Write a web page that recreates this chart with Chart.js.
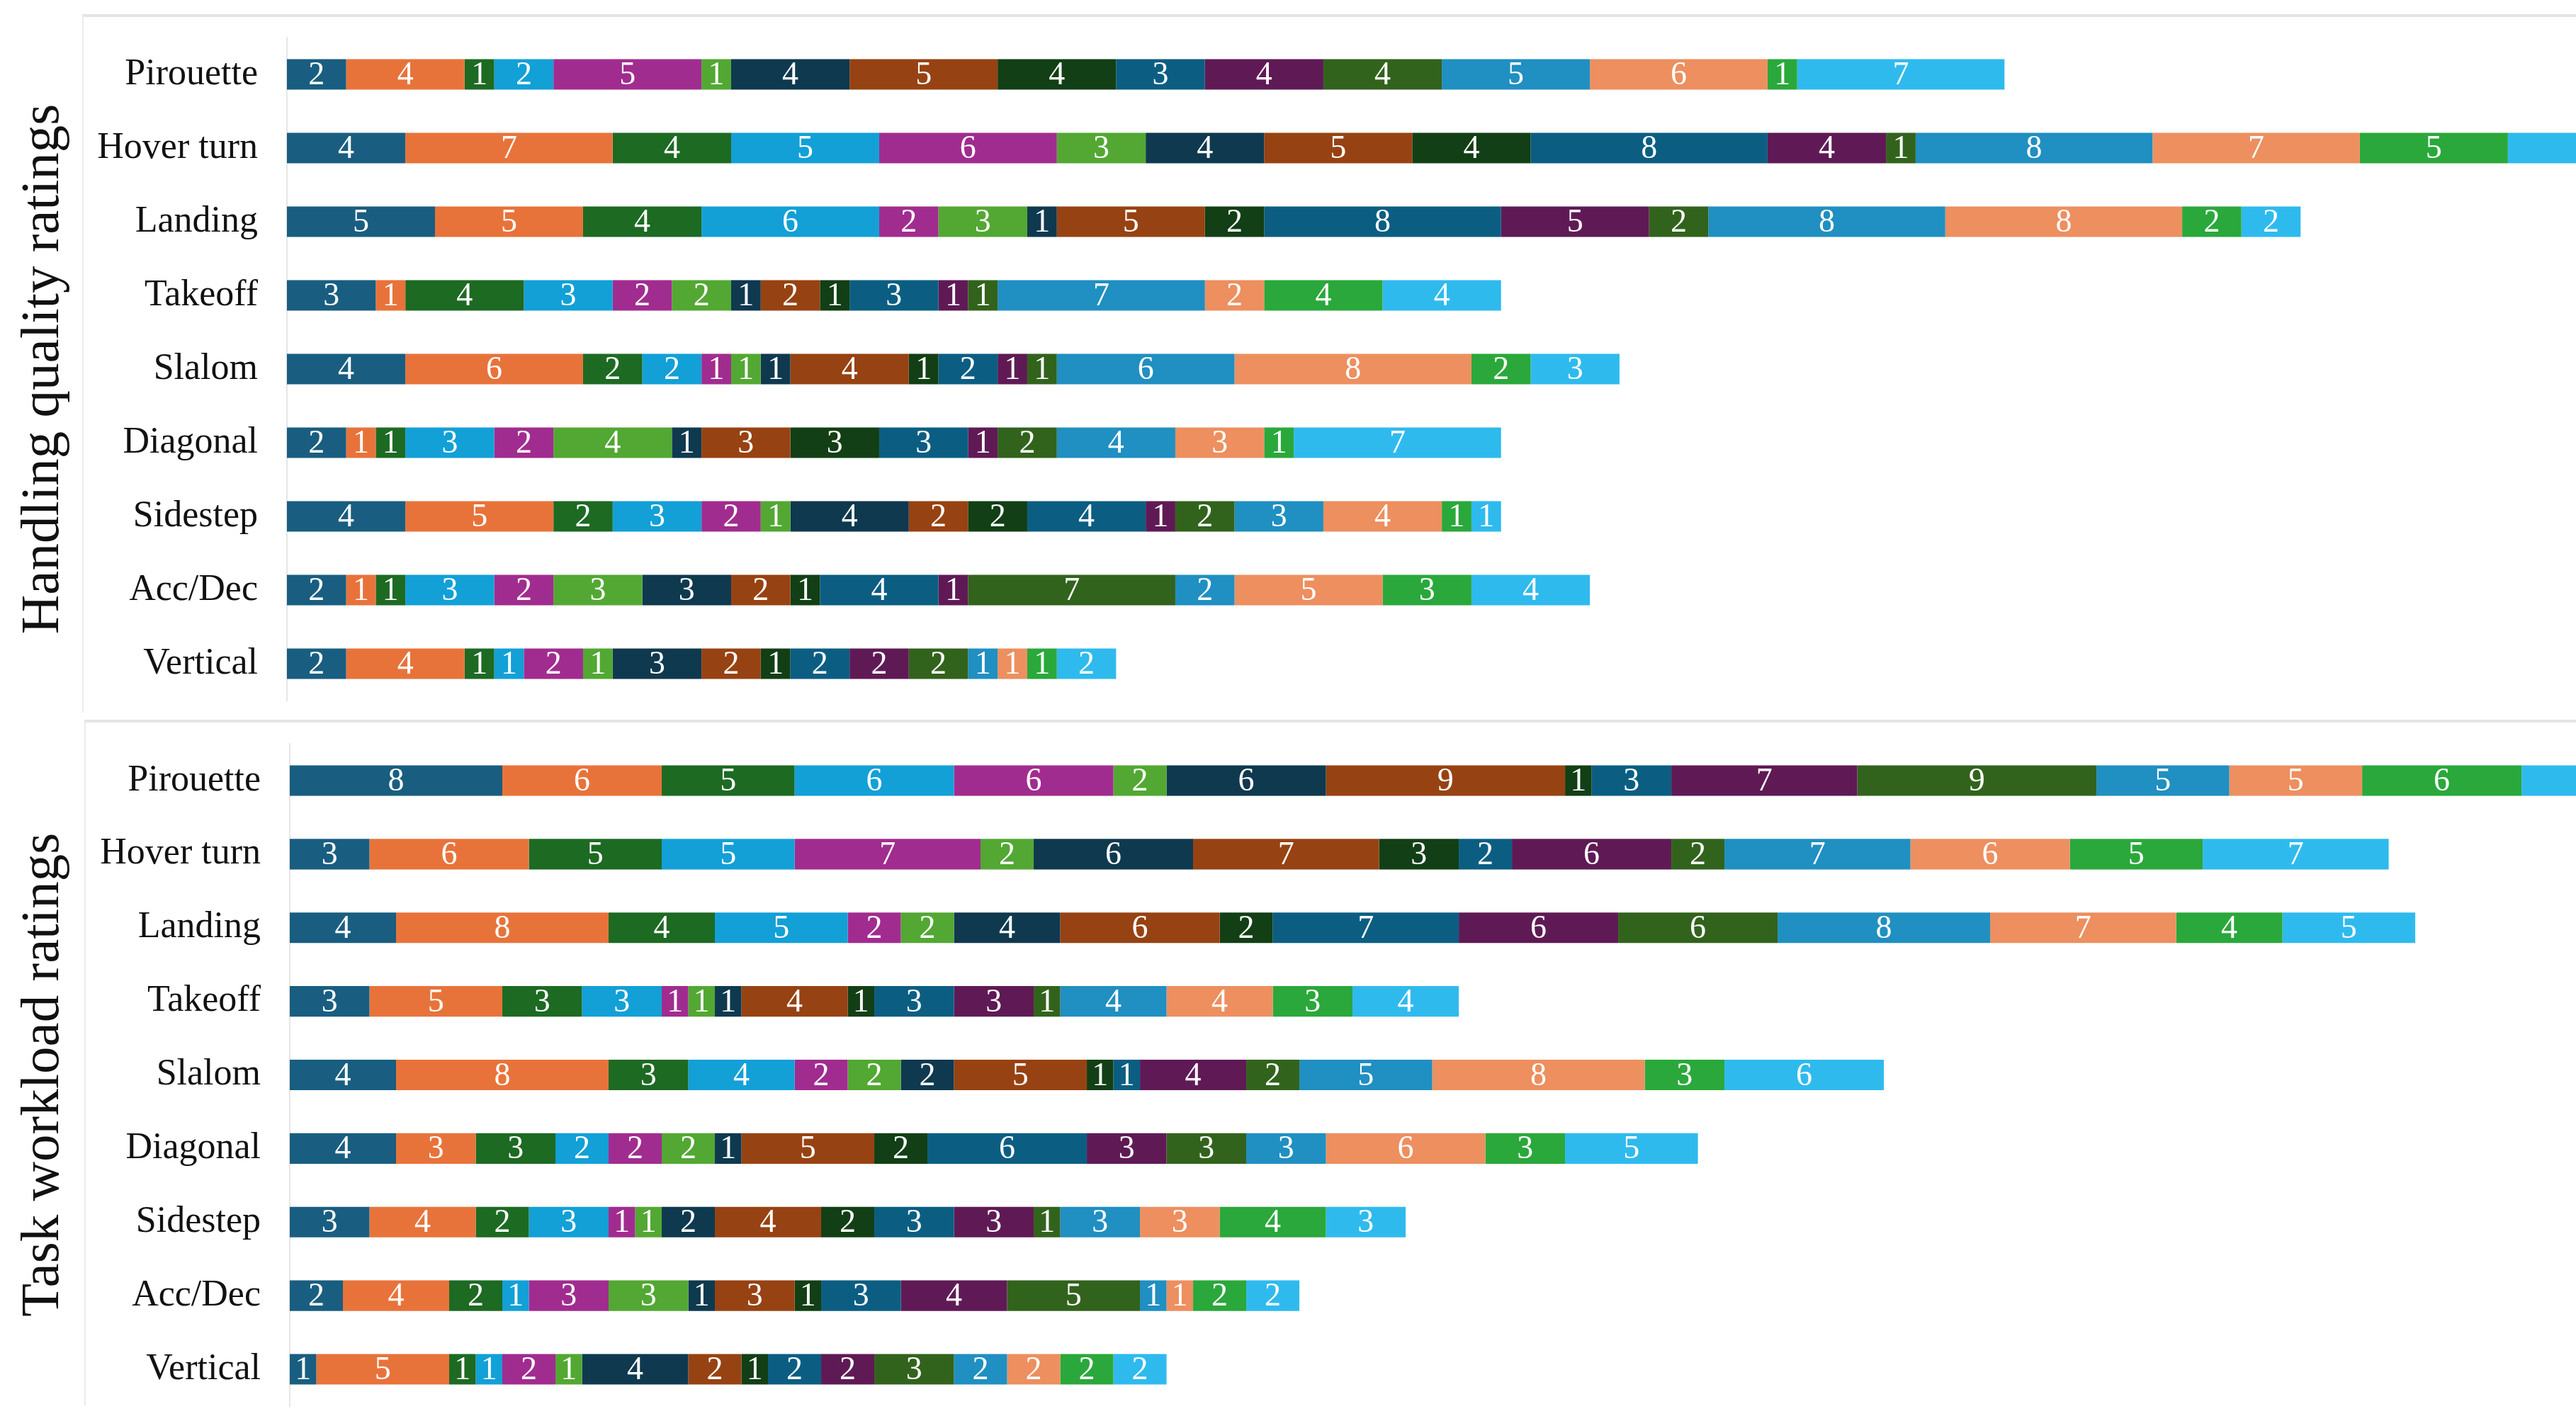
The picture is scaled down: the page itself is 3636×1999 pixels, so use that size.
<!DOCTYPE html>
<html>
<head>
<meta charset="utf-8">
<script src="https://cdn.jsdelivr.net/npm/chart.js"></script>
<style>
  body { margin: 0; background: #fff; width: 3636px; height: 1999px; position: relative; overflow: hidden; }
  .frame { position: absolute; right: -10px; border-top: 4px solid #e4e4e4; border-left: 2px solid #ececec; }
  #frameTop { left: 116px; top: 20px; height: 982px; }
  #frameBottom { left: 119px; top: 1016px; height: 964px; }
  canvas { position: absolute; left: 0; }
  #handlingChart { top: 0; }
  #workloadChart { top: 1000px; }
</style>
</head>
<body>
<div class="frame" id="frameTop"></div>
<div class="frame" id="frameBottom"></div>
<canvas id="handlingChart" width="3636" height="1000"></canvas>
<canvas id="workloadChart" width="3636" height="999"></canvas>
<script>
const tasks = ['Pirouette', 'Hover turn', 'Landing', 'Takeoff', 'Slalom', 'Diagonal', 'Sidestep', 'Acc/Dec', 'Vertical'];

// one colour per stacked segment position
const segmentColors = [
  '#195E80', '#E8733A', '#1D6A23', '#12A0D7', '#A12C8F', '#52A832', '#0F394F', '#974212',
  '#123F15', '#0B5E82', '#5F1A55', '#32631C', '#208FC1', '#ED8F5F', '#2AA83B', '#2FBAEE'
];

// Handling quality ratings, one array per task (16 segments each)
const hqPirouette = [2, 4, 1, 2, 5, 1, 4, 5, 4, 3, 4, 4, 5, 6, 1, 7];
const hqHoverTurn = [4, 7, 4, 5, 6, 3, 4, 5, 4, 8, 4, 1, 8, 7, 5, 6];
const hqLanding   = [5, 5, 4, 6, 2, 3, 1, 5, 2, 8, 5, 2, 8, 8, 2, 2];
const hqTakeoff   = [3, 1, 4, 3, 2, 2, 1, 2, 1, 3, 1, 1, 7, 2, 4, 4];
const hqSlalom    = [4, 6, 2, 2, 1, 1, 1, 4, 1, 2, 1, 1, 6, 8, 2, 3];
const hqDiagonal  = [2, 1, 1, 3, 2, 4, 1, 3, 3, 3, 1, 2, 4, 3, 1, 7];
const hqSidestep  = [4, 5, 2, 3, 2, 1, 4, 2, 2, 4, 1, 2, 3, 4, 1, 1];
const hqAccDec    = [2, 1, 1, 3, 2, 3, 3, 2, 1, 4, 1, 7, 2, 5, 3, 4];
const hqVertical  = [2, 4, 1, 1, 2, 1, 3, 2, 1, 2, 2, 2, 1, 1, 1, 2];

// Task workload ratings
const twPirouette = [8, 6, 5, 6, 6, 2, 6, 9, 1, 3, 7, 9, 5, 5, 6, 6];
const twHoverTurn = [3, 6, 5, 5, 7, 2, 6, 7, 3, 2, 6, 2, 7, 6, 5, 7];
const twLanding   = [4, 8, 4, 5, 2, 2, 4, 6, 2, 7, 6, 6, 8, 7, 4, 5];
const twTakeoff   = [3, 5, 3, 3, 1, 1, 1, 4, 1, 3, 3, 1, 4, 4, 3, 4];
const twSlalom    = [4, 8, 3, 4, 2, 2, 2, 5, 1, 1, 4, 2, 5, 8, 3, 6];
const twDiagonal  = [4, 3, 3, 2, 2, 2, 1, 5, 2, 6, 3, 3, 3, 6, 3, 5];
const twSidestep  = [3, 4, 2, 3, 1, 1, 2, 4, 2, 3, 3, 1, 3, 3, 4, 3];
const twAccDec    = [2, 4, 2, 1, 3, 3, 1, 3, 1, 3, 4, 5, 1, 1, 2, 2];
const twVertical  = [1, 5, 1, 1, 2, 1, 4, 2, 1, 2, 2, 3, 2, 2, 2, 2];

const handlingRows = [hqPirouette, hqHoverTurn, hqLanding, hqTakeoff, hqSlalom, hqDiagonal, hqSidestep, hqAccDec, hqVertical];
const workloadRows = [twPirouette, twHoverTurn, twLanding, twTakeoff, twSlalom, twDiagonal, twSidestep, twAccDec, twVertical];

// white value written in the middle of every segment
const segmentLabels = {
  id: 'segmentLabels',
  afterDatasetsDraw(chart) {
    const { ctx, chartArea } = chart;
    ctx.save();
    ctx.beginPath();
    ctx.rect(chartArea.left, chartArea.top, chartArea.width, chartArea.height);
    ctx.clip();
    ctx.font = '46px "Liberation Serif"';
    ctx.fillStyle = '#ffffff';
    ctx.textAlign = 'center';
    ctx.textBaseline = 'middle';
    chart.data.datasets.forEach((ds, i) => {
      chart.getDatasetMeta(i).data.forEach((bar, j) => {
        const v = ds.data[j];
        if (!v) return;
        const p = bar.getCenterPoint();
        ctx.fillText(String(v), p.x, p.y + 2);
      });
    });
    ctx.restore();
  }
};

function makeChart(id, rows, title, xMax, pad, axisWidth) {
  const datasets = segmentColors.map((color, k) => ({
    data: rows.map(r => r[k]),
    backgroundColor: color,
    borderWidth: 0,
    categoryPercentage: 1,
    barPercentage: 0.415
  }));

  return new Chart(document.getElementById(id).getContext('2d'), {
    type: 'bar',
    data: { labels: tasks, datasets: datasets },
    options: {
      indexAxis: 'y',
      responsive: false,
      animation: false,
      layout: { padding: pad },
      plugins: { legend: { display: false }, tooltip: { enabled: false } },
      scales: {
        x: { stacked: true, display: false, min: 0, max: xMax },
        y: {
          stacked: true,
          grid: { display: false, drawTicks: false },
          border: { display: true, color: '#e6e6e6', width: 2 },
          ticks: { padding: 41, color: '#111', font: { family: 'Liberation Serif', size: 52 } },
          title: {
            display: true,
            text: title,
            color: '#111',
            padding: 0,
            font: { family: 'Liberation Serif', size: 77 }
          },
          afterFit(scale) {
            scale.width = axisWidth;
            scale.paddingTop = 0;
            scale.paddingBottom = 0;
          }
        }
      }
    },
    plugins: [segmentLabels]
  });
}

makeChart('handlingChart', handlingRows, 'Handling quality ratings', 77.3,
  { left: 16, top: 53, bottom: 11, right: 0 }, 389);
makeChart('workloadChart', workloadRows, 'Task workload ratings', 86.05,
  { left: 16, top: 50, bottom: 14, right: 0 }, 393);
</script>
</body>
</html>
